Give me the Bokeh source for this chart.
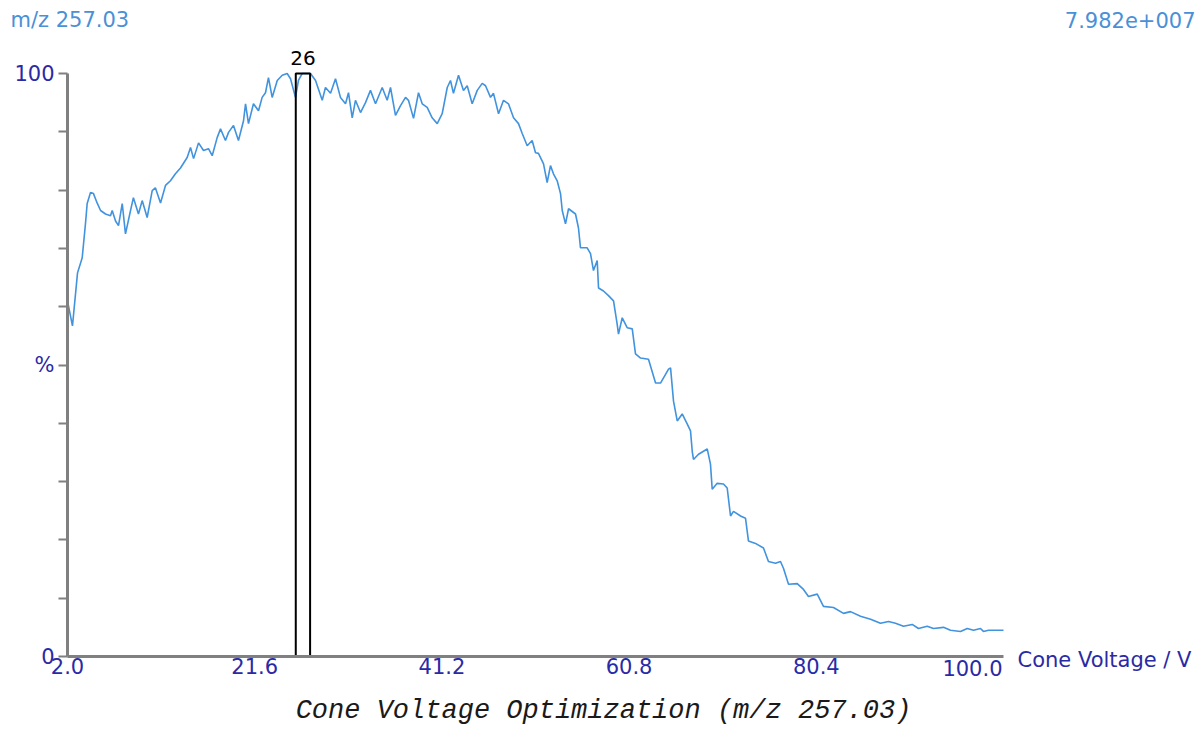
from bokeh.plotting import figure
from bokeh.models import Range1d, FixedTicker, Label, NumeralTickFormatter
from bokeh.embed import file_html
from bokeh.resources import INLINE

# Cone voltage (V) and relative intensity (%)
voltage = [2.00, 2.52, 3.05, 3.54, 3.88, 4.06, 4.41, 4.72, 5.10, 5.46,
           5.98, 6.50, 6.68, 7.03, 7.34, 7.73, 8.07, 8.60, 8.90, 9.43,
           9.82, 10.34, 10.87, 11.20, 11.74, 12.26, 12.78, 13.30, 13.83, 14.53,
           14.88, 15.20, 15.72, 16.24, 16.76, 17.15, 17.67, 18.02, 18.54, 18.86,
           19.38, 19.90, 20.43, 20.64, 20.95, 21.47, 22.00, 22.38, 22.73, 23.04,
           23.43, 23.96, 24.48, 25.00, 25.35, 25.87, 26.18, 26.57, 27.44, 27.97,
           28.67, 29.01, 29.54, 30.06, 30.58, 31.11, 31.42, 31.81, 32.15, 32.68,
           33.20, 33.72, 34.25, 34.95, 35.47, 35.82, 36.34, 36.87, 37.39, 37.70,
           38.23, 38.75, 39.14, 39.66, 40.18, 40.71, 41.23, 41.76, 42.10, 42.41,
           42.94, 43.46, 43.85, 44.37, 44.90, 45.42, 45.77, 46.29, 46.60, 47.13,
           47.65, 48.17, 48.70, 49.22, 49.61, 50.13, 50.65, 51.00, 51.31, 51.84,
           52.22, 52.57, 52.88, 53.27, 53.62, 53.80, 54.14, 54.46, 55.19, 55.50,
           55.71, 56.41, 56.76, 57.07, 57.46, 57.60, 58.12, 58.64, 59.17, 59.55,
           59.69, 60.08, 60.60, 61.13, 61.47, 62.00, 62.83, 63.57, 64.09, 64.93,
           65.14, 65.45, 65.84, 66.36, 66.88, 67.23, 67.41, 67.54, 68.07, 68.98,
           69.32, 69.50, 70.02, 70.68, 71.07, 71.42, 71.73, 72.47, 72.99, 73.30,
           74.03, 74.87, 75.39, 76.13, 76.65, 76.97, 77.49, 78.40, 79.06, 79.58,
           80.50, 81.15, 82.20, 83.25, 83.98, 85.03, 86.08, 87.12, 87.96, 88.69,
           89.53, 90.44, 91.10, 92.01, 92.67, 93.72, 94.45, 95.50, 96.20, 96.86,
           97.59, 97.90, 98.43, 100.00]

intensity = [61.0, 56.7, 65.8, 68.4, 74.2, 77.7, 79.6, 79.4, 77.8, 76.5,
             75.9, 75.6, 76.5, 74.7, 73.9, 77.7, 72.5, 76.5, 78.7, 75.9,
             78.2, 75.3, 79.9, 80.4, 77.8, 80.8, 81.6, 82.8, 83.8, 85.6,
             87.3, 85.4, 88.1, 86.8, 87.1, 85.9, 89.0, 90.5, 88.5, 89.9,
             91.1, 88.5, 91.9, 94.8, 91.4, 94.8, 93.6, 95.9, 96.7, 99.3,
             95.9, 98.8, 99.7, 100.0, 99.1, 95.9, 98.8, 100.0, 100.0, 98.8,
             95.4, 97.6, 96.6, 99.1, 95.9, 94.8, 96.7, 92.4, 95.4, 93.3,
             95.0, 97.1, 94.8, 97.6, 95.4, 97.6, 92.8, 94.5, 95.9, 95.4,
             92.3, 96.7, 94.8, 94.2, 92.4, 91.4, 93.1, 97.6, 98.8, 96.6,
             99.7, 97.1, 97.9, 94.8, 97.1, 98.3, 97.9, 95.9, 96.6, 93.1,
             95.4, 94.8, 92.4, 91.4, 89.7, 87.6, 88.5, 86.4, 86.3, 84.5,
             81.3, 84.2, 82.8, 81.6, 79.4, 76.5, 74.2, 76.8, 75.9, 73.5,
             70.1, 70.1, 69.1, 66.2, 67.9, 63.2, 62.7, 61.9, 61.0, 57.0,
             55.3, 58.1, 56.4, 56.2, 51.9, 51.2, 51.0, 46.9, 46.9, 49.3,
             49.5, 43.8, 40.4, 41.6, 39.9, 38.7, 35.2, 33.8, 34.7, 35.6,
             33.0, 28.7, 29.7, 29.6, 28.9, 24.1, 24.9, 24.1, 23.7, 19.8,
             19.4, 18.6, 16.3, 16.0, 16.3, 15.1, 12.4, 12.5, 11.5, 10.3,
             10.7, 8.6, 8.4, 7.4, 7.7, 6.9, 6.4, 5.7, 6.0, 5.7,
             5.2, 5.5, 4.8, 5.2, 4.8, 5.0, 4.5, 4.3, 4.8, 4.5,
             4.8, 4.3, 4.5, 4.5]

x_ticks = [2.0, 21.6, 41.2, 60.8, 80.4, 100.0]
x_tick_labels = ["2.0", "21.6", "41.2", "60.8", "80.4", "100.0"]
y_major = [0, 50, 100]
y_major_labels = {0: "0", 50: "%", 100: "100"}
y_minor = [10, 20, 30, 40, 60, 70, 80, 90]

peak_label = "26"
peak_lo, peak_hi = 25.9, 27.4
mz_label = "m/z 257.03"
max_intensity_label = "7.982e+007"
x_title = "Cone Voltage / V"
chart_title = "Cone Voltage Optimization (m/z 257.03)"

NAVY = "#2a2aa5"
LIGHT_BLUE = "#4a90d6"
TRACE = "#4193de"
AXIS_GRAY = "#808080"
SANS = "DejaVu Sans"

# canvas size and where the data box sits inside it (pixels)
W, H = 1204, 731
BOX_L, BOX_R, BOX_T, BOX_B = 67, 1003, 73, 656
X0, X1 = x_ticks[0], x_ticks[-1]
Y0, Y1 = 0.0, 100.0
sx = (BOX_R - BOX_L) / (X1 - X0)
sy = (BOX_B - BOX_T) / (Y1 - Y0)
x_range = Range1d(X0 - BOX_L / sx, X1 + (W - BOX_R) / sx)
y_range = Range1d(Y0 - (H - BOX_B) / sy, Y1 + BOX_T / sy)

p = figure(width=W, height=H, output_backend="svg", toolbar_location=None,
           x_range=x_range, y_range=y_range,
           min_border_left=0, min_border_right=0,
           min_border_top=0, min_border_bottom=0)
p.outline_line_color = None
p.xgrid.visible = False
p.ygrid.visible = False
p.background_fill_color = "white"
p.border_fill_color = "white"

# x axis, pinned at intensity 0 and limited to the voltage scan
xa = p.xaxis[0]
xa.fixed_location = Y0
xa.bounds = (X0, X1)
xa.ticker = FixedTicker(ticks=x_ticks[:-1])
xa.formatter = NumeralTickFormatter(format="0.0")
xa.axis_line_color = AXIS_GRAY
xa.axis_line_width = 3
xa.major_tick_line_color = None
xa.minor_tick_line_color = None
xa.major_tick_out = 0
xa.major_tick_in = 0
xa.major_label_standoff = 1
xa.major_label_text_font = SANS
xa.major_label_text_font_size = "21px"
xa.major_label_text_color = NAVY

# y axis, pinned at the first voltage
ya = p.yaxis[0]
ya.fixed_location = X0
ya.bounds = (Y0, Y1)
ya.ticker = FixedTicker(ticks=y_major, minor_ticks=y_minor)
ya.major_label_overrides = y_major_labels
ya.axis_line_color = AXIS_GRAY
ya.axis_line_width = 3
ya.major_tick_line_color = AXIS_GRAY
ya.minor_tick_line_color = AXIS_GRAY
ya.major_tick_line_width = 2
ya.minor_tick_line_width = 2
ya.major_tick_out = 9
ya.major_tick_in = 0
ya.minor_tick_out = 9
ya.minor_tick_in = 0
ya.major_label_standoff = 4
ya.major_label_text_font = SANS
ya.major_label_text_font_size = "21px"
ya.major_label_text_color = NAVY

# trace and peak marker
p.line(voltage, intensity, line_color=TRACE, line_width=1.6)
p.quad(left=[peak_lo], right=[peak_hi], bottom=[Y0], top=[Y1],
       fill_color=None, line_color="black", line_width=2)

def add_label(**kw):
    p.add_layout(Label(**kw))

add_label(x=(peak_lo + peak_hi) / 2, y=Y1, y_offset=16, text=peak_label,
          text_align="center", text_baseline="middle", text_font=SANS,
          text_font_size="20px", text_color="black")
add_label(x=X0, y=Y1, x_offset=-57, y_offset=54, text=mz_label,
          text_align="left", text_baseline="middle", text_font=SANS,
          text_font_size="21px", text_color=LIGHT_BLUE)
add_label(x=X1, y=Y1, x_offset=192, y_offset=54, text=max_intensity_label,
          text_align="right", text_baseline="middle", text_font=SANS,
          text_font_size="21px", text_color=LIGHT_BLUE)
add_label(x=X1, y=Y0, x_offset=-1, y_offset=-3, text=x_tick_labels[-1],
          text_align="right", text_baseline="top", text_font=SANS,
          text_font_size="21px", text_color=NAVY)
add_label(x=X1, y=Y0, x_offset=14, y_offset=-3, text=x_title,
          text_align="left", text_baseline="middle", text_font=SANS,
          text_font_size="21px", text_color=NAVY)
add_label(x=(X0 + X1) / 2, y=Y0, x_offset=68, y_offset=-54, text=chart_title,
          text_align="center", text_baseline="middle", text_font="Liberation Mono",
          text_font_style="italic", text_font_size="27px", text_color="#1a1a1a")

open("out.html", "w").write(file_html(p, INLINE))
